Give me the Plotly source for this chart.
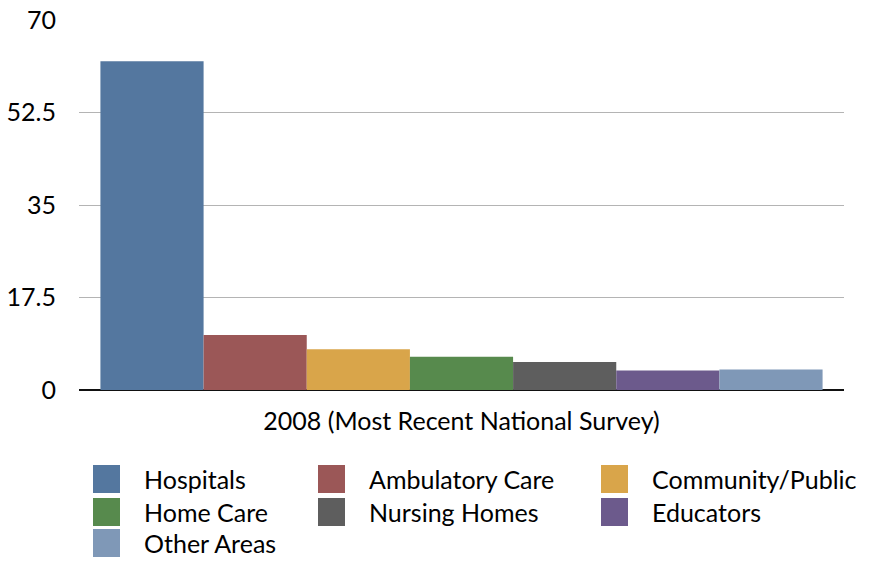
import plotly.graph_objects as go

category = "2008 (Most Recent National Survey)"
series_names = ["Hospitals", "Ambulatory Care", "Community/Public", "Home Care",
                "Nursing Homes", "Educators", "Other Areas"]
series_values = [62.2, 10.4, 7.7, 6.3, 5.3, 3.7, 3.9]
series_colors = ["#54779f", "#9b5757", "#d9a54a", "#578a4d", "#5e5e5e", "#6c5a8c", "#7f98b7"]
y_ticks = [0, 17.5, 35, 52.5, 70]
y_tick_labels = ["0", "17.5", "35", "52.5", "70"]

W, H = 874, 561
ML, MR, MT, MB = 79, 30, 20, 171
PW, PH = W - ML - MR, H - MT - MB
FONT = "Lato, 'Open Sans', sans-serif"

fig = go.Figure()
for name, val, col in zip(series_names, series_values, series_colors):
    fig.add_trace(go.Bar(x=[category], y=[val], name=name,
                         marker=dict(color=col, line=dict(width=0)),
                         showlegend=False))

# custom legend (large square swatches, 3 columns)
col_x = [93, 318, 601]
text_dx = 50
row_y = [479, 512, 543]
sw_w, sw_h = 27, 28

def px_x(p):
    return (p - ML) / PW

def px_y(p):
    return (H - MB - p) / PH

shapes = []
annotations = []
for i, (name, col) in enumerate(zip(series_names, series_colors)):
    r, c = divmod(i, 3)
    x0 = col_x[c]
    yc = row_y[r]
    shapes.append(dict(type="rect", xref="paper", yref="paper",
                       x0=px_x(x0), x1=px_x(x0 + sw_w),
                       y0=px_y(yc + sw_h / 2), y1=px_y(yc - sw_h / 2),
                       fillcolor=col, line=dict(width=0), layer="above"))
    annotations.append(dict(xref="paper", yref="paper", x=px_x(x0 + text_dx), y=px_y(yc),
                            xanchor="left", yanchor="middle", showarrow=False, borderpad=0,
                            text=name, font=dict(family=FONT, size=25, color="#000000")))

fig.update_layout(
    width=W, height=H,
    margin=dict(l=ML, r=MR, t=MT, b=MB, autoexpand=False),
    paper_bgcolor="white", plot_bgcolor="white",
    barmode="group", bargap=0.056, bargroupgap=0,
    font=dict(family=FONT, size=25, color="#000000"),
    shapes=shapes, annotations=annotations,
    xaxis=dict(showgrid=False, showline=False, zeroline=False, ticks="",
               tickfont=dict(size=25), ticklabelstandoff=14),
    yaxis=dict(range=[0, 70], tickvals=y_ticks, ticktext=y_tick_labels,
               showgrid=True, gridcolor="#b4b4b4", gridwidth=1,
               zeroline=True, zerolinecolor="#111111", zerolinewidth=1.5,
               showline=False, ticks="", tickfont=dict(size=25),
               ticklabelstandoff=22),
)

fig.write_html("out.html")
